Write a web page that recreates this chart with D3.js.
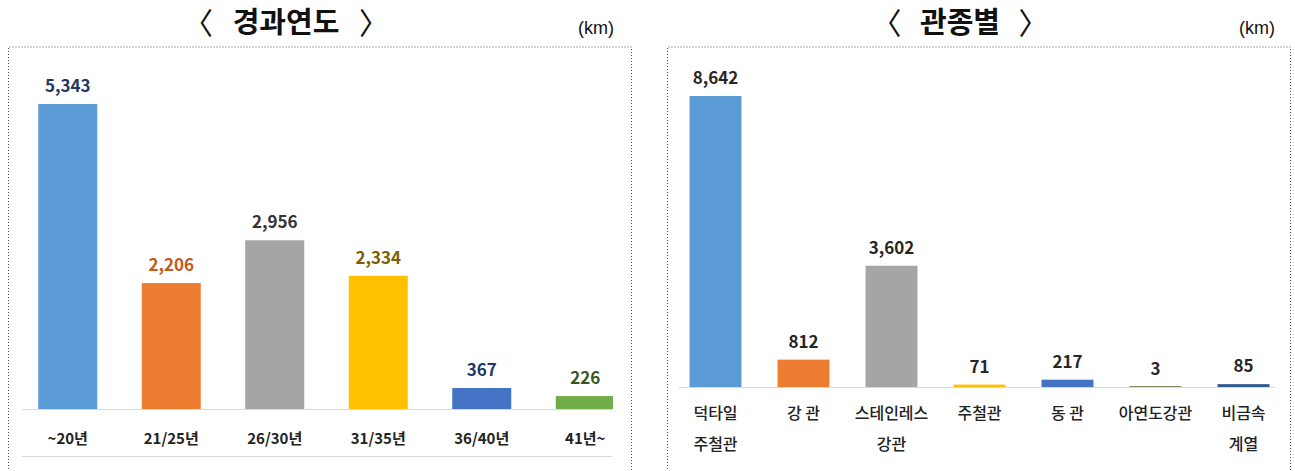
<!DOCTYPE html>
<html>
<head>
<meta charset="utf-8">
<script src="https://cdn.jsdelivr.net/npm/d3@7"></script>
<style>
  body { margin: 0; background: #fff; }
  svg { display: block; font-family: "Noto Sans CJK KR", sans-serif; }
</style>
</head>
<body>
<svg id="chart" width="1295" height="471"></svg>
<script>
// data
var ageCats   = ["~20년", "21/25년", "26/30년", "31/35년", "36/40년", "41년~"];
var ageValues = [5343, 2206, 2956, 2334, 367, 226];
var ageColors = ["#5b9bd5", "#ed7d31", "#a5a5a5", "#ffc000", "#4472c4", "#70ad47"];
var ageLabelColors = ["#1f3864", "#c55a11", "#333333", "#7f6000", "#1f3864", "#375623"];

var typeCats   = [["덕타일", "주철관"], ["강 관"], ["스테인레스", "강관"], ["주철관"], ["동 관"], ["아연도강관"], ["비금속", "계열"]];
var typeValues = [8642, 812, 3602, 71, 217, 3, 85];
var typeColors = ["#5b9bd5", "#ed7d31", "#a5a5a5", "#ffc000", "#4472c4", "#8a8a6a", "#2e5c8e"];

var fmt = d3.format(",");
var svg = d3.select("#chart");

function panel(cfg) {
  var g = svg.append("g");

  // title: brackets drawn thin, words bold
  var tw = cfg.title.length * 29;
  g.append("text")
    .attr("x", cfg.titleX).attr("y", 33)
    .attr("text-anchor", "middle")
    .style("font-size", "29px").style("font-weight", "bold").style("fill", "#111")
    .text(cfg.title);
  g.append("text")
    .attr("x", cfg.titleX - tw / 2 - 15).attr("y", 34)
    .attr("text-anchor", "end")
    .style("font-size", "30px").style("fill", "#111")
    .text("〈");
  g.append("text")
    .attr("x", cfg.titleX + tw / 2 + 15).attr("y", 34)
    .attr("text-anchor", "start")
    .style("font-size", "30px").style("fill", "#111")
    .text("〉");

  g.append("text")
    .attr("x", cfg.unitX).attr("y", 34)
    .attr("text-anchor", "middle")
    .style("font-family", "'Liberation Sans', sans-serif")
    .style("font-size", "18px").style("fill", "#111")
    .text("(km)");

  // dotted frame
  g.append("path")
    .attr("d", "M" + cfg.box[0] + ",475V47H" + cfg.box[1] + "V475")
    .attr("fill", "none")
    .attr("stroke", "#555")
    .attr("stroke-width", 1)
    .attr("stroke-dasharray", "1,2");

  var x = d3.scaleBand()
    .domain(d3.range(cfg.values.length))
    .range(cfg.xRange)
    .paddingInner(cfg.padding)
    .paddingOuter(cfg.padding / 2);

  var y = d3.scaleLinear()
    .domain([0, cfg.yMax])
    .range([cfg.base, cfg.top]);

  var clipId = "clip" + cfg.id;
  svg.append("clipPath").attr("id", clipId)
    .append("rect")
    .attr("x", cfg.lineX[0] - 20).attr("y", 0)
    .attr("width", cfg.clipRight - cfg.lineX[0] + 20).attr("height", 471);

  // baseline
  g.append("line")
    .attr("x1", cfg.lineX[0]).attr("x2", cfg.lineX[1])
    .attr("y1", cfg.base + 0.5).attr("y2", cfg.base + 0.5)
    .attr("stroke", "#d9d9d9").attr("stroke-width", 1);

  g.append("g").attr("clip-path", "url(#" + clipId + ")")
    .selectAll("rect")
    .data(cfg.values)
    .enter().append("rect")
    .attr("x", function(d, i) { return x(i); })
    .attr("width", x.bandwidth())
    .attr("y", function(d) { return Math.min(y(d), cfg.base - 1); })
    .attr("height", function(d) { return Math.max(cfg.base - y(d), 1); })
    .attr("fill", function(d, i) { return cfg.colors[i]; });

  g.selectAll(".val")
    .data(cfg.values)
    .enter().append("text")
    .attr("x", function(d, i) { return x(i) + x.bandwidth() / 2; })
    .attr("y", function(d) { return y(d) - 12; })
    .attr("text-anchor", "middle")
    .style("font-size", "17px").style("font-weight", "bold")
    .style("fill", function(d, i) { return cfg.labelColors[i]; })
    .text(function(d) { return fmt(d); });

  // category labels
  var cat = g.selectAll(".cat")
    .data(cfg.cats)
    .enter().append("text")
    .attr("text-anchor", "middle")
    .style("font-size", cfg.catSize).style("font-weight", cfg.catWeight)
    .style("fill", "#222");
  cat.each(function(d, i) {
    var lines = Array.isArray(d) ? d : [d];
    var t = d3.select(this);
    lines.forEach(function(s, k) {
      t.append("tspan")
        .attr("x", x(i) + x.bandwidth() / 2)
        .attr("y", cfg.catY + k * cfg.catLine)
        .text(s);
    });
  });

  if (cfg.bottomLine) {
    g.append("line")
      .attr("x1", cfg.lineX[0]).attr("x2", cfg.lineX[1])
      .attr("y1", cfg.bottomLine + 0.5).attr("y2", cfg.bottomLine + 0.5)
      .attr("stroke", "#d9d9d9").attr("stroke-width", 1);
  }
}

panel({
  id: "A",
  title: "경과연도", titleX: 286, unitX: 596,
  box: [8.5, 631.5],
  values: ageValues, cats: ageCats, colors: ageColors, labelColors: ageLabelColors,
  xRange: [16, 637], padding: 0.43,
  yMax: 5343, base: 409, top: 104,
  lineX: [22, 612], clipRight: 613,
  catY: 444, catLine: 0, catSize: "15px", catWeight: "bold",
  bottomLine: 456
});

panel({
  id: "B",
  title: "관종별", titleX: 960, unitX: 1257,
  box: [667.5, 1290.5],
  values: typeValues, cats: typeCats, colors: typeColors,
  labelColors: typeValues.map(function() { return "#262626"; }),
  xRange: [671.5, 1287.5], padding: 0.41,
  yMax: 8642, base: 387, top: 96,
  lineX: [679, 1275], clipRight: 1290,
  catY: 419, catLine: 31, catSize: "16px", catWeight: "500",
  bottomLine: null
});
</script>
</body>
</html>
